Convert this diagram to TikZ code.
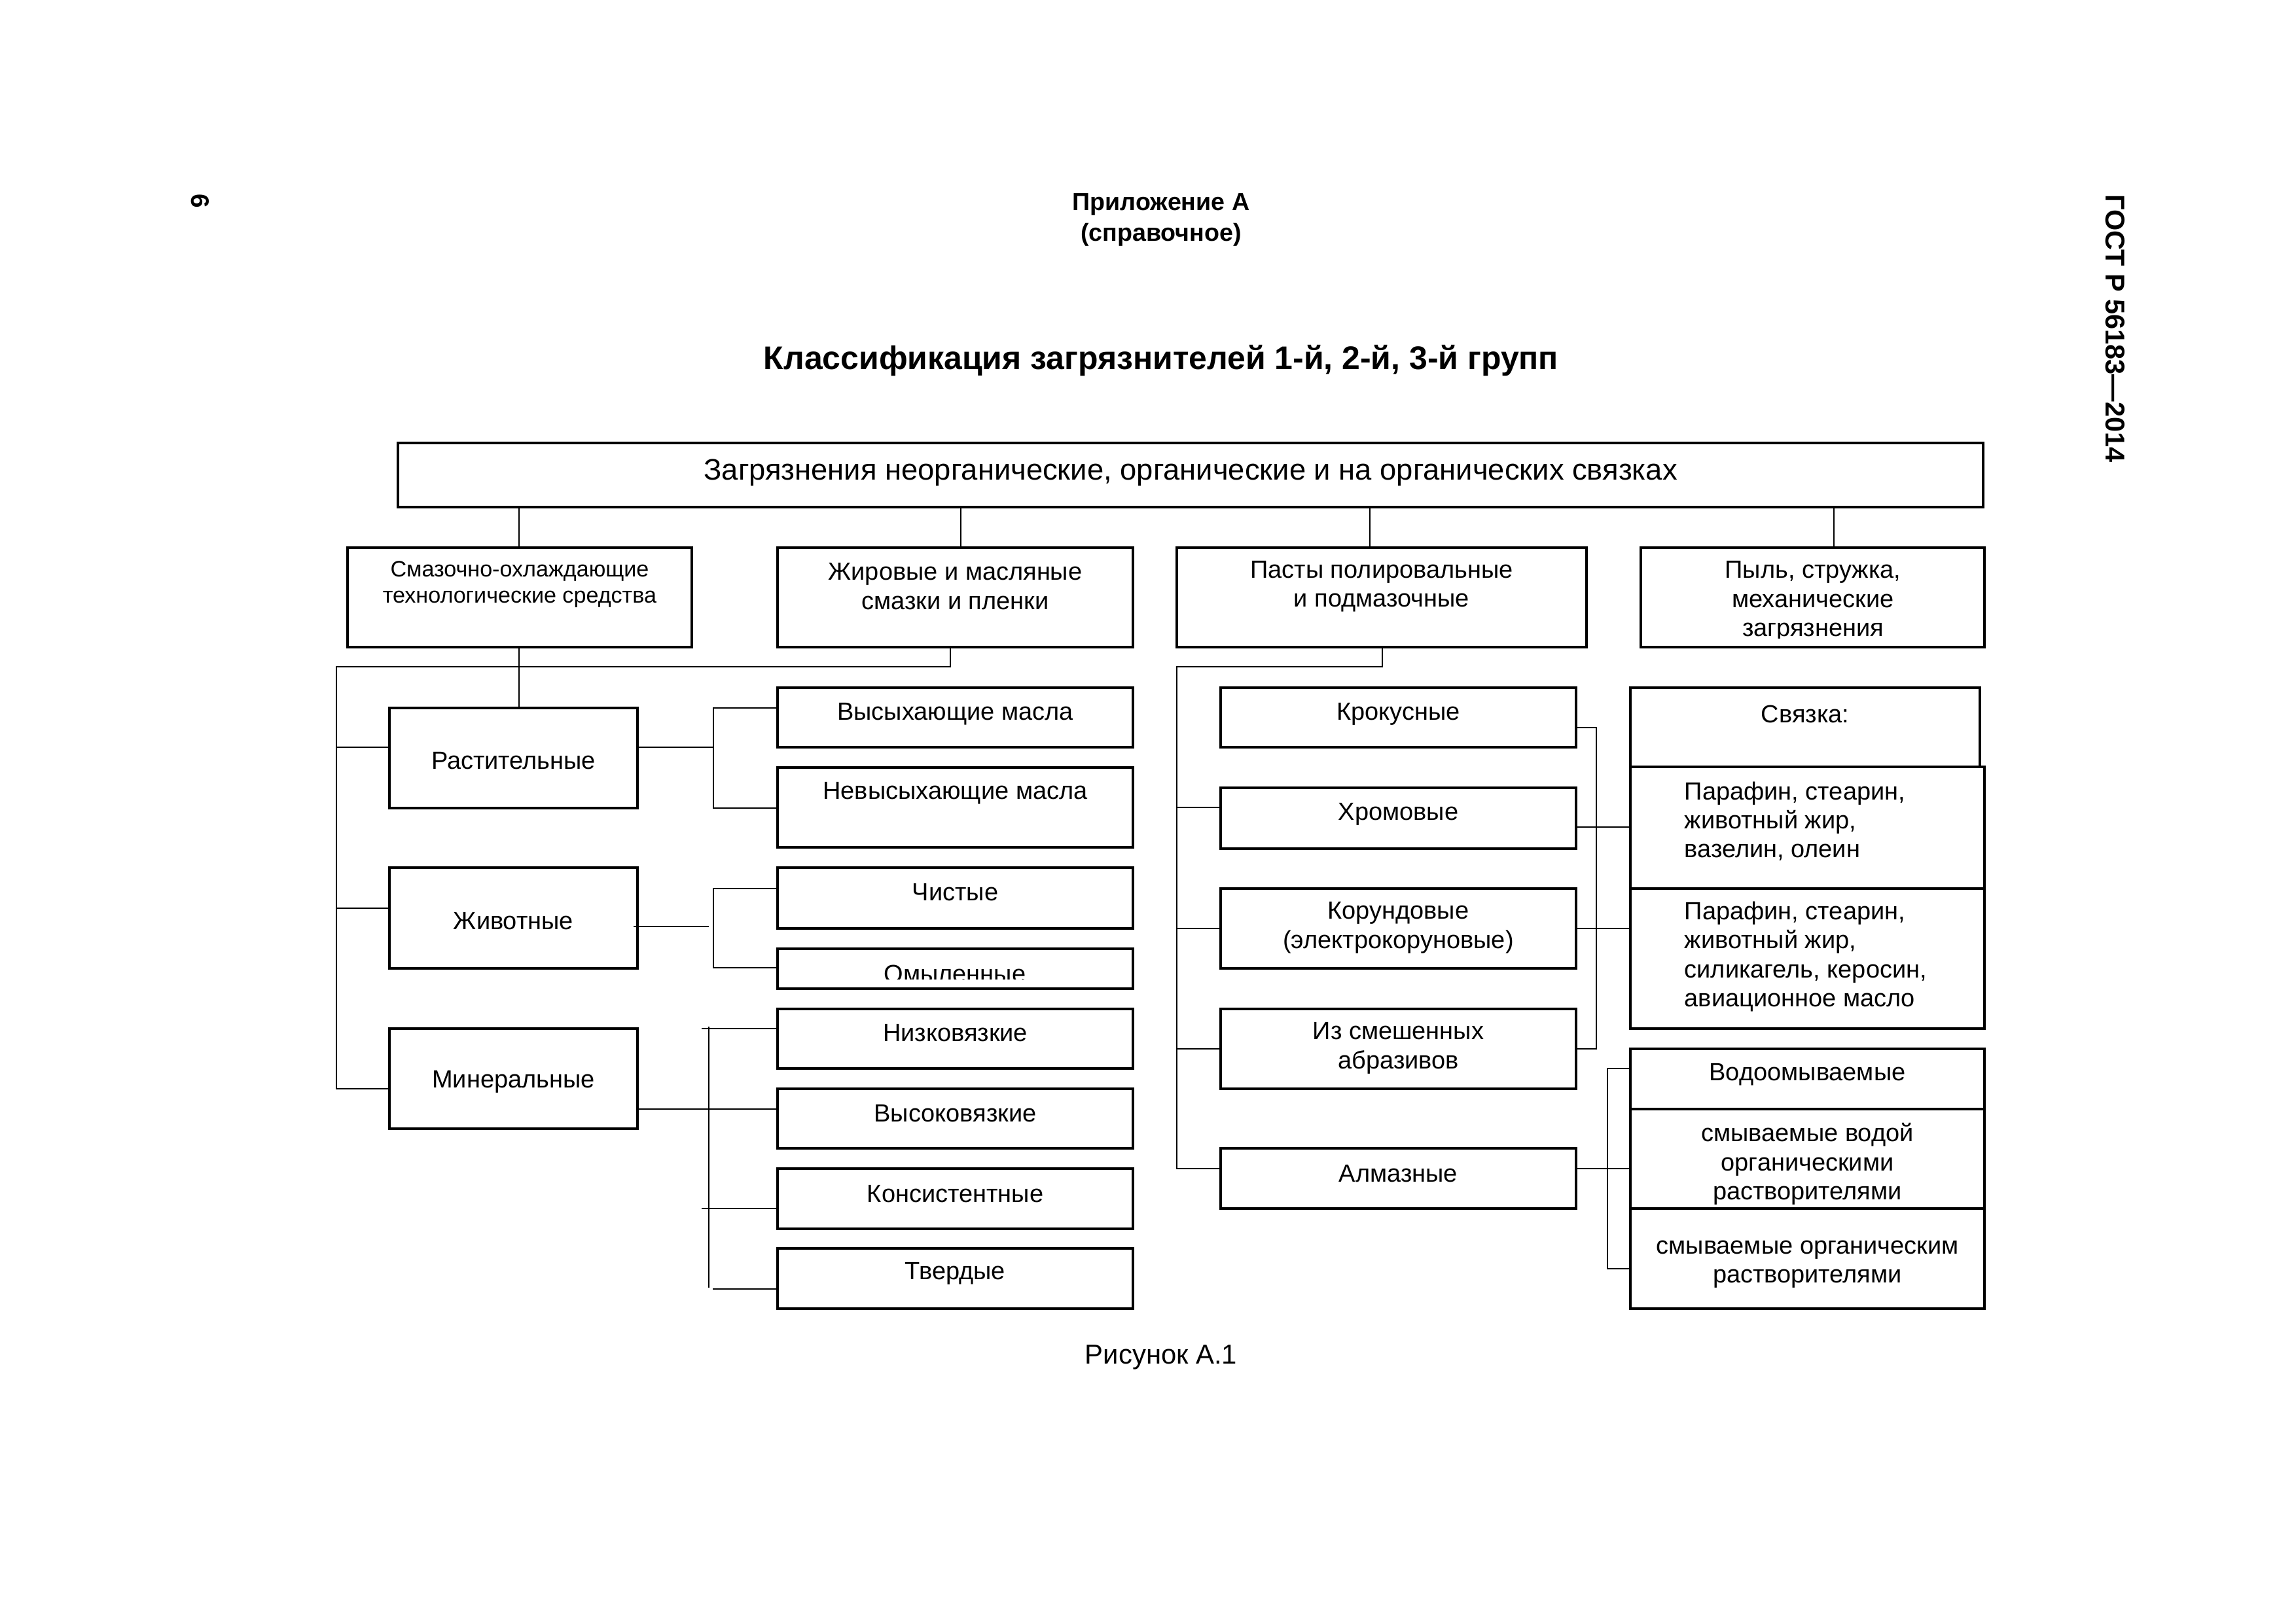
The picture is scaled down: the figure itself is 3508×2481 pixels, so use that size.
\documentclass[tikz,border=0pt]{standalone}
\usepackage{fontspec}
\setmainfont{Liberation Sans}
\usetikzlibrary{fit}
\tikzset{
  boxst/.style={draw, line width=1pt, inner sep=0pt, rectangle},
  txt/.style={inner sep=0pt, align=center, font=\fontsize{10.8}{12.6}\selectfont},
  txtl/.style={inner sep=0pt, align=left, anchor=west, font=\fontsize{10.8}{12.6}\selectfont},
  conn/.style={line width=0.6pt},
}
\newcommand\mkbox[7]{%
  \node[boxst, fit={(#2,#3) (#4,#5)}] (#1) {};
  \node[txt] (#1-t) at ({(#2+#4)/2},#6) {#7};}
\begin{document}
\begin{tikzpicture}[x=0.01cm,y=-0.01cm]
\path[use as bounding box] (0,0) rectangle (3508,2481);
% header
\node[rotate=-90, font=\bfseries\fontsize{11}{13}\selectfont] (pg) at (306,307) {6};
\node[rotate=-90, font=\bfseries\fontsize{11.8}{13}\selectfont] (gost) at (3232,502) {ГОСТ Р 56183—2014};
\node[align=center, font=\bfseries\fontsize{10.7}{13.2}\selectfont] (app) at (1774,336) {Приложение А\\(справочное)};
\node[font=\bfseries\fontsize{14.2}{16}\selectfont] (title) at (1774,551) {Классификация загрязнителей 1-й, 2-й, 3-й групп};
\node[font=\fontsize{11.9}{13}\selectfont] (fig) at (1774,2074) {Рисунок А.1};
% boxes
\node[boxst, fit={(608,677) (3030,775)}] (top) {};
\node[inner sep=0pt, font=\fontsize{12.9}{15}\selectfont] (top-t) at (1819,722) {Загрязнения неорганические, органические и на органических связках};
\node[boxst, fit={(531,837) (1057,989)}] (sots) {};
\node[txt, font=\fontsize{9.7}{11.4}\selectfont] (sots-t) at (794,893) {Смазочно-охлаждающие\\технологические средства};
\mkbox{zhir}{1188}{837}{1731}{989}{896}{Жировые и масляные\\смазки и пленки}
\mkbox{pasta}{1798}{837}{2424}{989}{896}{Пасты полировальные\\и подмазочные}
\node[boxst, fit={(2507,837) (3032,989)}] (pyl) {};
\begin{scope}
\clip (2509,839) rectangle (3030,975);
\node[txt] (pyl-t) at (2770,919) {Пыль, стружка,\\механические\\загрязнения};
\end{scope}
\mkbox{rast}{595}{1082}{974}{1235}{1163}{Растительные}
\mkbox{zhiv}{595}{1326}{974}{1480}{1408}{Животные}
\mkbox{miner}{595}{1572}{974}{1725}{1653}{Минеральные}
\mkbox{vys}{1188}{1051}{1731}{1142}{1091}{Высыхающие масла}
\mkbox{nevys}{1188}{1173}{1731}{1295}{1212}{Невысыхающие масла}
\mkbox{chist}{1188}{1326}{1731}{1419}{1364}{Чистые}
\node[boxst, fit={(1188,1450) (1731,1511)}] (omyl) {};
\begin{scope}
\clip (1190,1452) rectangle (1729,1496);
\node[txt] (omyl-t) at (1459,1488) {Омыленные};
\end{scope}
\mkbox{nizk}{1188}{1542}{1731}{1633}{1579}{Низковязкие}
\mkbox{vysok}{1188}{1664}{1731}{1755}{1702}{Высоковязкие}
\mkbox{kons}{1188}{1786}{1731}{1878}{1825}{Консистентные}
\mkbox{tverd}{1188}{1908}{1731}{2000}{1946}{Твердые}
\mkbox{krok}{1865}{1051}{2408}{1142}{1091}{Крокусные}
\mkbox{hrom}{1865}{1204}{2408}{1297}{1244}{Хромовые}
\mkbox{korund}{1865}{1358}{2408}{1480}{1418}{Корундовые\\(электрокоруновые)}
\mkbox{smesh}{1865}{1542}{2408}{1664}{1602}{Из смешенных\\абразивов}
\mkbox{almaz}{1865}{1755}{2408}{1847}{1794}{Алмазные}
\mkbox{svyaz}{2491}{1051}{3025}{1172}{1091}{Связка:}
\node[boxst, fit={(2491,1172) (3032,1358)}] (par1) {};
\node[txtl] (par1-t) at (2573,1255) {Парафин, стеарин,\\животный жир,\\вазелин, олеин};
\node[boxst, fit={(2491,1358) (3032,1572)}] (par2) {};
\node[txtl] (par2-t) at (2573,1462) {Парафин, стеарин,\\животный жир,\\силикагель, керосин,\\авиационное масло};
\mkbox{vodo}{2491}{1603}{3032}{1695}{1642}{Водоомываемые}
\mkbox{smyv1}{2491}{1695}{3032}{1847}{1779}{смываемые водой\\органическими\\растворителями}
\mkbox{smyv2}{2491}{1847}{3032}{2000}{1932}{смываемые органическим\\растворителями}
% top level connectors
\draw[conn] (top.south -| 793,0) -- (sots.north -| 793,0);
\draw[conn] (top.south -| 1468,0) -- (zhir.north -| 1468,0);
\draw[conn] (top.south -| 2093,0) -- (pasta.north -| 2093,0);
\draw[conn] (top.south -| 2802,0) -- (pyl.north -| 2802,0);
% left group
\coordinate (lj) at (514,1019);
\draw[conn] (sots.south -| 793,0) -- (rast.north -| 793,0);
\draw[conn] (zhir.south -| 1452,0) -- (1452,1019) -- (lj) -- (514,1664) -- (miner.west |- 0,1664);
\draw[conn] (514,1142) -- (rast.west |- 0,1142);
\draw[conn] (514,1388) -- (zhiv.west |- 0,1388);
% rast
\draw[conn] (rast.east |- 0,1142) -- (1090,1142);
\draw[conn] (vys.west |- 0,1082) -- (1090,1082) -- (1090,1235) -- (nevys.west |- 0,1235);
% zhiv
\draw[conn] (968,1416) -- (1083,1416);
\draw[conn] (chist.west |- 0,1358) -- (1090,1358) -- (1090,1479) -- (omyl.west |- 0,1479);
% miner
\draw[conn] (miner.east |- 0,1695) -- (vysok.west |- 0,1695);
\draw[conn] (1083,1569) -- (1083,1968);
\draw[conn] (1072,1572) -- (nizk.west |- 0,1572);
\draw[conn] (1072,1847) -- (kons.west |- 0,1847);
\draw[conn] (1089,1970) -- (tverd.west |- 0,1970);
% pasta group
\draw[conn] (pasta.south -| 2112,0) -- (2112,1019) -- (1798,1019) -- (1798,1786) -- (almaz.west |- 0,1786);
\draw[conn] (1798,1234) -- (hrom.west |- 0,1234);
\draw[conn] (1798,1419) -- (korund.west |- 0,1419);
\draw[conn] (1798,1603) -- (smesh.west |- 0,1603);
\draw[conn] (krok.east |- 0,1112) -- (2439,1112) -- (2439,1603) -- (smesh.east |- 0,1603);
\draw[conn] (hrom.east |- 0,1264) -- (par1.west |- 0,1264);
\draw[conn] (korund.east |- 0,1419) -- (par2.west |- 0,1419);
\draw[conn] (almaz.east |- 0,1786) -- (smyv1.west |- 0,1786);
\draw[conn] (vodo.west |- 0,1633) -- (2456,1633) -- (2456,1939) -- (smyv2.west |- 0,1939);
\end{tikzpicture}
\end{document}
